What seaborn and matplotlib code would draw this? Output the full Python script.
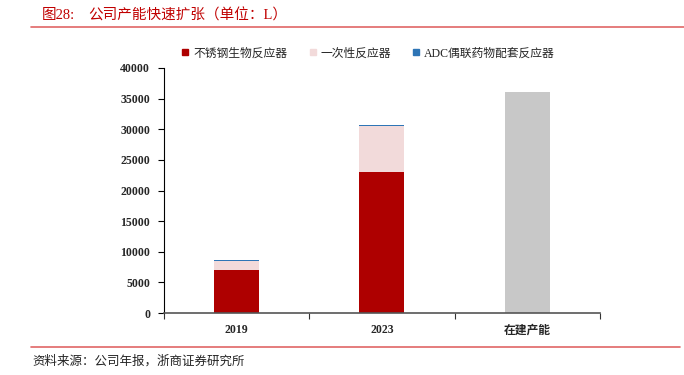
import matplotlib
matplotlib.use("Agg")
import matplotlib.pyplot as plt
import seaborn as sns
import pandas as pd
from matplotlib.lines import Line2D

# 数据（单位：L）
categories = ["2019", "2023", "在建产能"]
stainless = [7000, 23000, 0]
single_use = [1500, 7500, 0]
adc = [150, 150, 0]
building = [0, 0, 36000]
series_names = ["不锈钢生物反应器", "一次性反应器", "ADC偶联药物配套反应器"]

sns.set_theme(style="white")
fonts = ["Liberation Serif", "Noto Sans CJK SC", "DejaVu Sans"]
plt.rcParams["font.family"] = fonts
plt.rcParams["axes.unicode_minus"] = False

red = "#AE0000"
pink = "#F2DADA"
blue = "#2E75B6"
gray = "#C8C8C8"

df = pd.DataFrame({"cat": categories, "s": stainless, "o": single_use,
                   "a": adc, "b": building})

fig = plt.figure(figsize=(6.84, 3.75), dpi=100)
ax = fig.add_axes([0.2398, 0.1653, 0.6372, 0.6534])

w = 0.31
bottom1 = df["s"]
bottom2 = df["s"] + df["o"]
sns.barplot(data=df, x="cat", y="s", color=red, width=w, linewidth=0,
            saturation=1, ax=ax)
sns.barplot(data=df, x="cat", y="o", bottom=bottom1, color=pink, width=w,
            linewidth=0, saturation=1, ax=ax)
sns.barplot(data=df, x="cat", y="a", bottom=bottom2, color=blue, width=w,
            linewidth=0, saturation=1, ax=ax)
sns.barplot(data=df, x="cat", y="b", color=gray, width=w, linewidth=0,
            saturation=1, ax=ax)

ax.set_ylim(0, 40000)
ax.set_xlim(-0.5, 2.5)
ax.set_yticks(range(0, 40001, 5000))
ax.set_xlabel("")
ax.set_ylabel("")
for side in ["top", "right"]:
    ax.spines[side].set_visible(False)
ax.spines["left"].set_color("#000000")
ax.spines["left"].set_linewidth(0.8)
ax.spines["bottom"].set_color("#555555")
ax.spines["bottom"].set_linewidth(1.2)

ax.tick_params(axis="y", which="major", direction="out", length=4, width=0.8,
               color="#000000", labelsize=8.5, left=True, pad=6)
for lab in ax.get_yticklabels():
    lab.set_fontweight("bold")
# x 轴：刻度线在类别之间
ax.set_xticks([-0.5, 0.5, 1.5, 2.5], minor=True)
ax.tick_params(axis="x", which="minor", direction="out", length=4, width=0.8,
               color="#333333", bottom=True)
ax.tick_params(axis="x", which="major", length=0, labelsize=8.5, pad=8)
for lab in ax.get_xticklabels():
    lab.set_fontweight("bold")

# 图例
handles = [Line2D([0], [0], marker="s", linestyle="", markersize=5,
                  markerfacecolor=c, markeredgecolor=c)
           for c in [red, pink, blue]]
fig.legend(handles, series_names, loc="center left",
           bbox_to_anchor=(0.247, 0.858), ncol=3, frameon=False,
           fontsize=8.5, handletextpad=0.2, columnspacing=1.6,
           handlelength=1.0)

# 标题、分隔线与来源
fig.text(0.061, 0.958, "图28:", color="#C00000",
         fontsize=10.5, va="center", ha="left")
fig.text(0.129, 0.958, "公司产能快速扩张（单位：L）", color="#C00000",
         fontsize=10.5, va="center", ha="left")
fig.add_artist(Line2D([0.045, 1.0], [0.927, 0.927], color="#E06666",
                      linewidth=1.2, transform=fig.transFigure))
fig.add_artist(Line2D([0.045, 0.994], [0.075, 0.075], color="#E06666",
                      linewidth=1.2, transform=fig.transFigure))
fig.text(0.047, 0.035, "资料来源：公司年报，浙商证券研究所", color="#222222",
         fontsize=9, va="center", ha="left")

fig.savefig("out.png", dpi=100)
